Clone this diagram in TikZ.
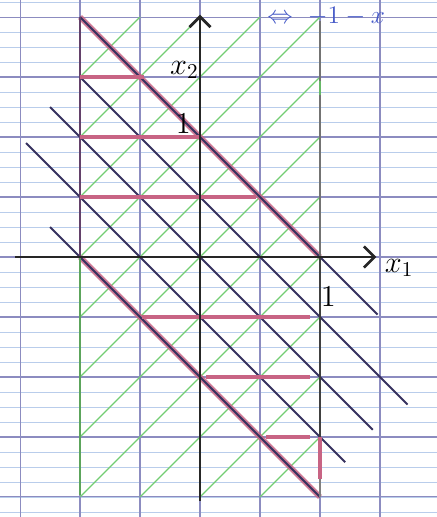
\documentclass[tikz,border=0pt]{standalone}
\usepackage{amsmath,amssymb}
\usetikzlibrary{arrows.meta}

\definecolor{quadmaj}{RGB}{140,140,192}
\definecolor{quadmin}{RGB}{185,205,235}
\definecolor{crayon}{RGB}{55,50,95}
\definecolor{fluo}{RGB}{200,100,132}
\definecolor{vertclair}{RGB}{115,205,115}
\definecolor{encre}{RGB}{70,90,200}

\begin{document}
\begin{tikzpicture}[
        x=2cm, y=2cm,
        font=\Large,
        majeure/.style={draw=quadmaj, line width=0.5pt},
        mineure/.style={draw=quadmin, line width=0.4pt},
        axe/.style={draw=black!85, line width=1.3pt, -{Straight Barb[length=5pt,width=10pt]}},
        niveau/.style={draw=crayon, line width=0.9pt},
        bord/.style={draw=fluo, line width=2.6pt, opacity=0.85},
        hachure/.style={draw=fluo, line width=2pt},
        vert/.style={draw=vertclair, line width=0.6pt}
    ]
        % feuille
        \path[use as bounding box, fill=white] (-1.667,-2.167) rectangle (1.975,2.142);

        % quadrillage
        \foreach \y in {-2.125,-2,...,2.125}
            \draw[mineure] (-1.667,\y) -- (1.975,\y);
        \foreach \y in {-2,-1.5,...,2}
            \draw[majeure] (-1.667,\y) -- (1.975,\y);
        \foreach \x in {-1.5,-1,...,1.5}
            \draw[majeure] (\x,-2.167) -- (\x,2.142);

        % hachures vertes
        \begin{scope}
            \clip (-1,-2) rectangle (1,2);
            \foreach \c in {-2.5,-2,...,2.5}
                \draw[vert] (-3,{-3+\c}) -- (3,{3+\c});
        \end{scope}

        % droites x1+x2 = c
        \draw[bord] (-1,2) -- (1,0);
        \draw[bord] (-1,0) -- (1,-2);
        \foreach \c/\a/\b in {1/-1/1.48, 0.5/-1/1.73, 0/-1.25/1.44, -0.5/-1.45/1.21, -1/-1.25/1}
            \draw[niveau] ({\a},{\c-\a}) -- ({\b},{\c-\b});

        % bords verticaux
        \draw[draw=crayon!70!fluo, line width=1pt] (-1,2) -- (-1,0);
        \draw[draw=vertclair!80!black, line width=0.8pt] (-1,0) -- (-1,-1.98);
        \draw[draw=black!55, line width=0.8pt] (1,1.97) -- (1,0);
        \draw[draw=vertclair!90!black, line width=1.4pt] (1,1.35) -- (1,1.47);
        \draw[draw=black!75, line width=1pt] (1,0) -- (1,-1.5);
        \draw[hachure] (1,-1.5) -- (1,-1.85);
        \draw[draw=black!50, line width=0.6pt] (1,-1.85) -- (1,-2);

        % hachures roses
        \draw[hachure] (-1,1.5) -- (-0.47,1.5);
        \draw[hachure] (-1,1) -- (0,1);
        \draw[hachure] (-1,0.5) -- (0.47,0.5);
        \draw[hachure] (-0.48,-0.5) -- (0.92,-0.5);
        \draw[hachure] (0.05,-1) -- (0.92,-1);
        \draw[hachure] (0.55,-1.5) -- (0.92,-1.5);

        % axes
        \coordinate (gauche) at (-1.54,0);
        \coordinate (droite) at (1.47,0);
        \coordinate (bas) at (0,-2.03);
        \coordinate (haut) at (0,2.02);
        \draw[axe] (gauche) -- (droite);
        \draw[axe] (bas) -- (haut);

        % textes
        \node (xa) at (1.66,-0.09) {$x_1$};
        \node (xb) at (-0.13,1.56) {$x_2$};
        \node (una) at (-0.14,1.11) {$1$};
        \node (unb) at (1.07,-0.33) {$1$};
        \node[anchor=north west, inner sep=1pt, font=\large, text=encre] (entete) at (0.54,2.10) {$\Leftrightarrow\ -1-x$};
    \end{tikzpicture}
\end{document}
